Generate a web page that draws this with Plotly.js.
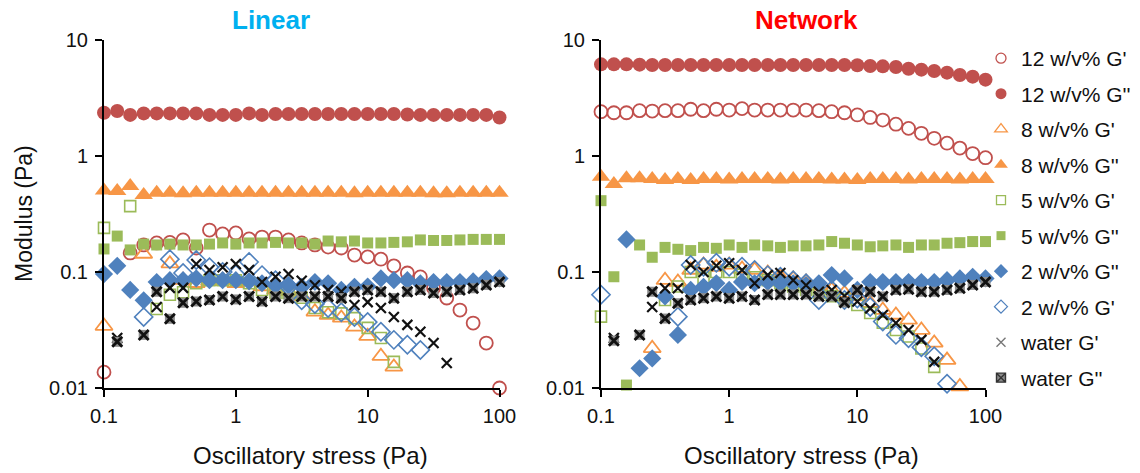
<!DOCTYPE html>
<html>
<head>
<meta charset="utf-8">
<script src="https://cdn.plot.ly/plotly-3.0.1.min.js"></script>
<style>
  html, body { margin: 0; padding: 0; background: #fff; }
  #chart { width: 1140px; height: 473px; }
</style>
</head>
<body>
<div id="chart"></div>
<script>
// Oscillatory stress sweep points (Pa), ten per decade
const stress = [0.1, 0.126, 0.158, 0.2, 0.251, 0.316, 0.398, 0.501, 0.631, 0.794,
  1, 1.26, 1.58, 2, 2.51, 3.16, 3.98, 5.01, 6.31, 7.94,
  10, 12.6, 15.8, 20, 25.1, 31.6, 39.8, 50.1, 63.1, 79.4, 100];

const xTickVals = [0.1, 1, 10, 100];
const xTickText = ['0.1', '1', '10', '100'];
const yTickVals = [0.01, 0.1, 1, 10];
const yTickText = ['0.01', '0.1', '1', '10'];

const panelTitles = ['Linear', 'Network'];
const seriesNames = ["12 w/v% G'", "12 w/v% G''", "8 w/v% G'", "8 w/v% G''",
  "5 w/v% G'", "5 w/v% G''", "2 w/v% G''", "2 w/v% G'", "water G'", "water G''"];

// ---- Linear panel (Pa) ----
const lin12Gp = [0.0137, null, 0.146, 0.171, 0.178, 0.18, 0.189, 0.161, 0.23, 0.213, 0.217, 0.193, 0.2, 0.2, 0.189, 0.178, 0.171, 0.164, 0.161, 0.14, 0.135, 0.129, 0.113, 0.098, 0.0906, 0.0728, 0.0597, 0.047, 0.0363, 0.0244, 0.01];
const lin12Gpp = [2.36, 2.44, 2.26, 2.33, 2.33, 2.33, 2.33, 2.33, 2.26, 2.26, 2.26, 2.33, 2.26, 2.3, 2.3, 2.3, 2.3, 2.3, 2.3, 2.3, 2.3, 2.3, 2.3, 2.28, 2.26, 2.26, 2.26, 2.26, 2.26, 2.26, 2.15];
const lin8Gp = [0.0342, null, null, 0.143, null, 0.118, 0.085, 0.08, 0.083, 0.085, 0.08, 0.083, 0.075, 0.07, 0.068, 0.062, 0.0454, 0.0425, 0.0402, 0.0336, 0.028, 0.0188, 0.0152, null, null, null, null, null, null, null, null];
const lin8Gpp = [0.505, 0.5, 0.551, 0.461, 0.483, 0.483, 0.478, 0.483, 0.483, 0.483, 0.483, 0.483, 0.483, 0.483, 0.483, 0.483, 0.483, 0.483, 0.483, 0.478, 0.483, 0.483, 0.483, 0.483, 0.483, 0.478, 0.478, 0.483, 0.483, 0.483, 0.483];
const lin5Gp = [0.24, null, 0.37, null, 0.048, 0.0636, 0.067, 0.08, 0.085, 0.085, 0.085, 0.08, 0.07, 0.066, 0.066, 0.06, 0.049, 0.045, 0.044, 0.04, 0.033, 0.027, 0.0168, null, null, null, null, null, null, null, null];
const lin5Gpp = [0.158, 0.204, 0.155, 0.174, 0.171, 0.174, 0.171, 0.171, 0.174, 0.178, 0.174, 0.178, 0.178, 0.18, 0.178, 0.178, 0.174, 0.185, 0.182, 0.185, 0.178, 0.178, 0.18, 0.182, 0.189, 0.187, 0.187, 0.189, 0.191, 0.191, 0.191];
const lin2Gpp = [0.096, 0.113, 0.07, 0.057, 0.082, 0.085, 0.085, 0.088, 0.085, 0.085, 0.085, 0.083, 0.08, 0.077, 0.077, 0.0745, 0.082, 0.08, 0.07, 0.0745, 0.075, 0.088, 0.085, 0.085, 0.08, 0.082, 0.082, 0.082, 0.083, 0.087, 0.088];
const lin2Gp = [null, null, null, 0.041, null, 0.129, 0.098, 0.127, 0.11, 0.1, 0.095, 0.122, 0.094, 0.085, 0.075, 0.057, 0.053, 0.049, 0.045, 0.041, 0.037, 0.0305, 0.026, 0.0236, 0.0213, null, null, null, null, null, null];
const linWaterGp = [null, 0.027, null, null, 0.05, 0.073, 0.073, 0.117, 0.104, 0.11, 0.117, 0.104, 0.082, 0.091, 0.096, 0.084, 0.077, 0.07, 0.068, 0.052, 0.055, 0.049, 0.041, 0.035, 0.0305, 0.0244, 0.0164, null, null, null, null];
const linWaterGpp = [null, 0.025, null, 0.0287, 0.0676, 0.0395, 0.0543, 0.0557, 0.0574, 0.0615, 0.058, 0.0615, 0.0557, 0.0615, 0.0595, 0.0615, 0.0615, 0.0615, 0.0595, 0.0676, 0.07, 0.0676, 0.0595, 0.0676, 0.07, 0.066, 0.0676, 0.07, 0.0724, 0.0774, 0.082];

// ---- Network panel (Pa) ----
const net12Gp = [2.41, 2.36, 2.36, 2.46, 2.44, 2.46, 2.46, 2.53, 2.46, 2.53, 2.49, 2.56, 2.49, 2.49, 2.49, 2.49, 2.49, 2.46, 2.41, 2.36, 2.26, 2.15, 2.04, 1.88, 1.73, 1.57, 1.42, 1.29, 1.17, 1.05, 0.967];
const net12Gpp = [6.17, 6.17, 6.17, 6.13, 6.09, 6.09, 6.09, 6.09, 6.09, 6.09, 6.09, 6.09, 6.09, 6.09, 6.09, 6.09, 6.09, 6.09, 6.09, 6.09, 6.05, 5.97, 5.93, 5.85, 5.65, 5.55, 5.4, 5.23, 4.99, 4.83, 4.55];
const net8Gp = [null, null, null, null, 0.022, 0.085, 0.082, 0.104, 0.115, 0.11, 0.115, 0.106, 0.104, 0.098, 0.091, 0.087, 0.082, 0.076, 0.07, 0.0657, 0.0615, 0.0538, 0.047, 0.0426, 0.0386, 0.0316, 0.0245, 0.0174, 0.0103, null, null];
const net8Gpp = [0.663, 0.575, 0.642, 0.642, 0.634, 0.621, 0.634, 0.621, 0.634, 0.634, 0.627, 0.634, 0.634, 0.634, 0.627, 0.634, 0.634, 0.634, 0.627, 0.627, 0.621, 0.634, 0.634, 0.634, 0.627, 0.634, 0.634, 0.634, 0.627, 0.634, 0.634];
const net5Gp = [0.0412, null, null, null, null, 0.0574, 0.075, 0.1, 0.089, 0.1, 0.1, 0.095, 0.09, 0.085, 0.08, 0.075, 0.07, 0.066, 0.062, 0.058, 0.052, 0.0443, 0.0365, 0.0316, 0.0278, 0.0219, 0.0152, null, null, null, null];
const net5Gpp = [0.412, 0.091, 0.0106, 0.171, 0.134, 0.163, 0.157, 0.153, 0.163, 0.16, 0.171, 0.163, 0.171, 0.168, 0.163, 0.168, 0.168, 0.171, 0.183, 0.177, 0.171, 0.165, 0.168, 0.171, 0.163, 0.171, 0.171, 0.177, 0.179, 0.183, 0.183];
const net2Gpp = [null, null, 0.191, 0.0148, 0.018, 0.0615, 0.0287, 0.07, 0.0745, 0.08, 0.07, 0.082, 0.08, 0.082, 0.08, 0.08, 0.077, 0.08, 0.094, 0.088, 0.07, 0.082, 0.082, 0.082, 0.082, 0.082, 0.082, 0.085, 0.088, 0.091, 0.088];
const net2Gp = [0.0636, null, null, null, null, null, 0.0412, 0.115, 0.111, 0.12, 0.111, 0.111, 0.104, 0.094, 0.091, 0.085, 0.08, 0.0574, 0.07, 0.0574, 0.059, 0.05, 0.0374, 0.0287, 0.0269, 0.0225, 0.0188, 0.0109, null, null, null];
const netWaterGp = [null, 0.027, null, null, 0.05, 0.0724, 0.0724, 0.115, 0.1, 0.113, 0.119, 0.104, 0.08, 0.094, 0.098, 0.085, 0.077, 0.0676, 0.07, 0.062, 0.0557, 0.0486, 0.0426, 0.0363, 0.0316, 0.026, 0.0168, null, null, null, null];
const netWaterGpp = [null, 0.0256, null, 0.0287, 0.0676, 0.0397, 0.0538, 0.0574, 0.0595, 0.0615, 0.0595, 0.0615, 0.0574, 0.064, 0.064, 0.064, 0.064, 0.0615, 0.0615, 0.0546, 0.07, 0.0676, 0.0615, 0.07, 0.071, 0.0676, 0.0676, 0.07, 0.0724, 0.0774, 0.082];

const linearSeries = [lin12Gp, lin12Gpp, lin8Gp, lin8Gpp, lin5Gp, lin5Gpp, lin2Gpp, lin2Gp, linWaterGp, linWaterGpp];
const networkSeries = [net12Gp, net12Gpp, net8Gp, net8Gpp, net5Gp, net5Gpp, net2Gpp, net2Gp, netWaterGp, netWaterGpp];

const RED = '#C0504D', ORANGE = '#F79646', GREEN = '#9BBB59', BLUE = '#4F81BD';

// marker style per series; 'layers' stacks several symbols for one mark
const styles = [
  {layers: [{symbol: 'circle-open', color: RED, size: 13, lw: 1.8}], leg: {symbol: 'circle-open', color: RED, size: 10, lw: 1.3}},
  {layers: [{symbol: 'circle', color: RED, size: 14}], leg: {symbol: 'circle', color: RED, size: 11}},
  {layers: [{symbol: 'triangle-up-open', color: ORANGE, size: 15, lw: 1.8}], leg: {symbol: 'triangle-up-open', color: ORANGE, size: 11, lw: 1.3}},
  {layers: [{symbol: 'triangle-up', color: ORANGE, size: 16}], leg: {symbol: 'triangle-up', color: ORANGE, size: 12}},
  {layers: [{symbol: 'square-open', color: GREEN, size: 11, lw: 1.6}], leg: {symbol: 'square-open', color: GREEN, size: 9, lw: 1.3}},
  {layers: [{symbol: 'square', color: GREEN, size: 11}], leg: {symbol: 'square', color: GREEN, size: 9}},
  {layers: [{symbol: 'diamond', color: BLUE, size: 14}], leg: {symbol: 'diamond', color: BLUE, size: 11}},
  {layers: [{symbol: 'diamond-open', color: BLUE, size: 14, lw: 1.6}], leg: {symbol: 'diamond-open', color: BLUE, size: 10, lw: 1.3}},
  {layers: [{symbol: 'x-thin-open', color: '#111', size: 10, lw: 2.2}], leg: {symbol: 'x-thin-open', color: '#777', size: 9, lw: 1.4}},
  {layers: [{symbol: 'square', color: '#8c8c8c', size: 10}, {symbol: 'x-thin-open', color: '#111', size: 10, lw: 2.8}],
    leg: {symbol: 'square-x', color: '#8a8a8a', size: 9, lw: 1.4, line: '#333'}}
];

function toMarker(m) {
  if (m.symbol === 'square-x') {
    return {symbol: m.symbol, size: m.size, color: m.color, line: {color: m.line, width: m.lw}};
  }
  if (m.symbol.endsWith('-open')) {
    return {symbol: m.symbol, size: m.size, color: m.color, line: {color: m.color, width: m.lw}};
  }
  return {symbol: m.symbol, size: m.size, color: m.color, line: {width: 0}};
}

const traces = [];
[linearSeries, networkSeries].forEach((panel, p) => {
  panel.forEach((vals, k) => {
    styles[k].layers.forEach(layer => {
      traces.push({
        type: 'scatter', mode: 'markers',
        x: stress, y: vals,
        xaxis: p === 0 ? 'x' : 'x2', yaxis: p === 0 ? 'y' : 'y2',
        name: seriesNames[k], legendgroup: 'g' + k, showlegend: false,
        marker: toMarker(layer),
        cliponaxis: false, hoverinfo: 'x+y+name'
      });
    });
  });
});
// legend entries with compact symbols
styles.forEach((st, k) => {
  traces.push({
    type: 'scatter', mode: 'markers', x: [null], y: [null],
    xaxis: 'x', yaxis: 'y',
    name: seriesNames[k], legendgroup: 'g' + k, showlegend: true,
    marker: toMarker(st.leg)
  });
});

const FONT = 'Liberation Sans, Arial, sans-serif';
const W = 1140, H = 473;

function xAxis(domain, anchor) {
  return {
    type: 'log', range: [-1, 2], domain: domain, anchor: anchor,
    tickvals: xTickVals, ticktext: xTickText,
    showgrid: false, zeroline: false, showline: true, linecolor: '#000', linewidth: 2,
    ticks: 'outside', ticklen: 7, tickwidth: 2, tickcolor: '#000',
    tickfont: {family: FONT, size: 20, color: '#111'}, ticklabelstandoff: 2
  };
}
function yAxis(domain, anchor) {
  return {
    type: 'log', range: [-2, 1], domain: domain, anchor: anchor,
    tickvals: yTickVals, ticktext: yTickText,
    showgrid: false, zeroline: false, showline: true, linecolor: '#000', linewidth: 2,
    ticks: 'outside', ticklen: 7, tickwidth: 2, tickcolor: '#000',
    tickfont: {family: FONT, size: 20, color: '#111'}, ticklabelstandoff: 3
  };
}

const yDom = [(H - 388) / H, (H - 40) / H];

const layout = {
  width: W, height: H,
  margin: {l: 0, r: 0, t: 0, b: 0},
  paper_bgcolor: '#fff', plot_bgcolor: 'rgba(0,0,0,0)',
  font: {family: FONT, color: '#111'},
  showlegend: true,
  xaxis: xAxis([104 / W, 499.5 / W], 'y'),
  yaxis: yAxis(yDom, 'x'),
  xaxis2: xAxis([601 / W, 985.5 / W], 'y2'),
  yaxis2: yAxis(yDom, 'x2'),
  legend: {
    x: 981 / W, xanchor: 'left', y: 1 - 38 / H, yanchor: 'top',
    font: {family: FONT, size: 21, color: '#111'},
    bgcolor: 'rgba(0,0,0,0)', tracegroupgap: 5.2, itemclick: false, itemdoubleclick: false
  },
  annotations: [
    {text: '<b>' + panelTitles[0] + '</b>', xref: 'paper', yref: 'paper', x: 271 / W, y: 1 - 20 / H,
      xanchor: 'center', yanchor: 'middle', showarrow: false, font: {family: FONT, size: 26, color: '#00B0F0'}},
    {text: '<b>' + panelTitles[1] + '</b>', xref: 'paper', yref: 'paper', x: 806 / W, y: 1 - 20 / H,
      xanchor: 'center', yanchor: 'middle', showarrow: false, font: {family: FONT, size: 26, color: '#FF0000'}},
    {text: 'Oscillatory stress (Pa)', xref: 'paper', yref: 'paper', x: 310 / W, y: 1 - 455 / H,
      xanchor: 'center', yanchor: 'middle', showarrow: false, font: {family: FONT, size: 24, color: '#111'}},
    {text: 'Oscillatory stress (Pa)', xref: 'paper', yref: 'paper', x: 801 / W, y: 1 - 455 / H,
      xanchor: 'center', yanchor: 'middle', showarrow: false, font: {family: FONT, size: 24, color: '#111'}},
    {text: 'Modulus (Pa)', xref: 'paper', yref: 'paper', x: 24 / W, y: 1 - 214 / H, textangle: -90,
      xanchor: 'center', yanchor: 'middle', showarrow: false, font: {family: FONT, size: 23, color: '#111'}}
  ]
};

Plotly.newPlot('chart', traces, layout, {displayModeBar: false, staticPlot: true});
</script>
</body>
</html>
